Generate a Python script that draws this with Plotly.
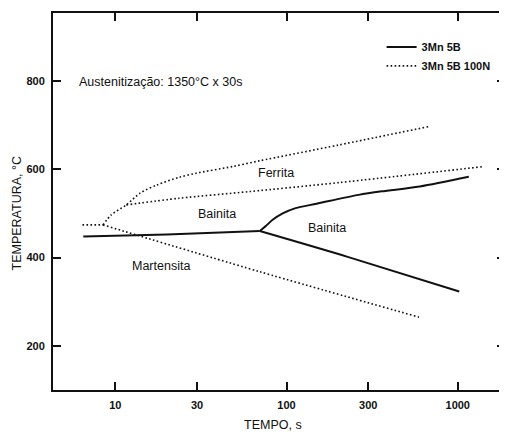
import math
import plotly.graph_objects as go

# ---- data (time in s, temperature in °C) ----
# 3Mn 5B (solid): base line | upper (ferrite/bainite) branch | lower branch
solid_t = [6.5, 20, 69.8,
           None, 69.8, 76, 82.6, 95, 113, 150, 264, 360, 600, 1160,
           None, 69.8, 230, 1020]
solid_T = [447.5, 452.5, 460,
           None, 460, 472, 485, 500, 512, 522, 542, 550, 561, 583,
           None, 460, 401, 323]

# 3Mn 5B 100N (dotted): short plateau | upper curve | ferrite start line | lower line
dot_t = [6.43, 8.47,
         None, 8.47, 9.46, 11.6, 14.0, 17.5, 23.7, 29.6, 48.1, 69.2, 202, 673,
         None, 11.6, 23.7, 60.5, 202, 1406,
         None, 8.47, 69.2, 594]
dot_T = [474, 474,
         None, 474, 496.6, 519.3, 546.4, 564.5, 582, 591, 606, 619, 655, 696.5,
         None, 519.3, 534.4, 549.4, 569.8, 606,
         None, 474, 368.3, 265]

series_names = ["3Mn 5B", "3Mn 5B 100N"]

x_tickvals = [10, 30, 100, 300, 1000]
x_ticktext = ["10", "30", "100", "300", "1000"]
y_tickvals = [200, 400, 600, 800]

region_labels = ["Ferrita", "Bainita", "Bainita", "Martensita"]
region_t = [86.9, 39, 172, 18.4]
region_T = [592, 499, 467, 381]

note_text = "Austenitização: 1350°C x 30s"
note_t, note_T = 5.97, 798
x_title = "TEMPO, s"
y_title = "TEMPERATURA, °C"

FONT = "Liberation Sans, Arial, sans-serif"
INK = "#111111"

fig = go.Figure()
fig.add_trace(go.Scatter(x=solid_t, y=solid_T, mode="lines", name=series_names[0],
                         line=dict(color=INK, width=2, shape="spline", smoothing=0.8),
                         connectgaps=False))
fig.add_trace(go.Scatter(x=dot_t, y=dot_T, mode="lines", name=series_names[1],
                         line=dict(color=INK, width=1.6, dash="1.6px,2.4px",
                                   shape="spline", smoothing=0.8),
                         connectgaps=False))

annotations = []
for txt, t, T in zip(region_labels, region_t, region_T):
    annotations.append(dict(x=math.log10(t), y=T, xref="x", yref="y", text=txt, showarrow=False,
                            xanchor="center", yanchor="middle",
                            font=dict(family=FONT, size=12.5, color=INK)))
annotations.append(dict(x=math.log10(note_t), y=note_T, xref="x", yref="y", text=note_text,
                        showarrow=False, xanchor="left", yanchor="middle",
                        font=dict(family=FONT, size=12.5, color=INK)))
annotations.append(dict(x=0.487, y=-0.093, xref="paper", yref="paper", text=x_title,
                        showarrow=False, xanchor="center", yanchor="middle",
                        font=dict(family=FONT, size=12.5, color=INK)))
annotations.append(dict(x=-0.079, y=0.469, xref="paper", yref="paper", text=y_title,
                        showarrow=False, textangle=-90, xanchor="center", yanchor="middle",
                        font=dict(family=FONT, size=12.5, color=INK)))

axis_common = dict(showline=True, linecolor=INK, linewidth=2, mirror="ticks",
                   ticks="inside", ticklen=8, tickwidth=1.5, tickcolor=INK,
                   showgrid=False, zeroline=False,
                   tickfont=dict(family=FONT, size=11, color=INK, weight="bold"))

# page body has an 8px default margin, so the figure is sized/offset to fit the window
fig.update_layout(
    width=499, height=424,
    margin=dict(l=45, r=0, t=5, b=42),
    paper_bgcolor="white", plot_bgcolor="white",
    xaxis=dict(type="log", range=[0.636, 3.276], tickvals=x_tickvals, ticktext=x_ticktext,
               ticklabelstandoff=4, **axis_common),
    yaxis=dict(range=[100, 954], tickvals=y_tickvals, ticklabelstandoff=4, **axis_common),
    showlegend=True,
    legend=dict(x=0.727, y=0.9485, xanchor="left", yanchor="top", bgcolor="rgba(0,0,0,0)",
                font=dict(family=FONT, size=11, color=INK, weight="bold")),
    annotations=annotations,
)

fig.write_html("out.html")
